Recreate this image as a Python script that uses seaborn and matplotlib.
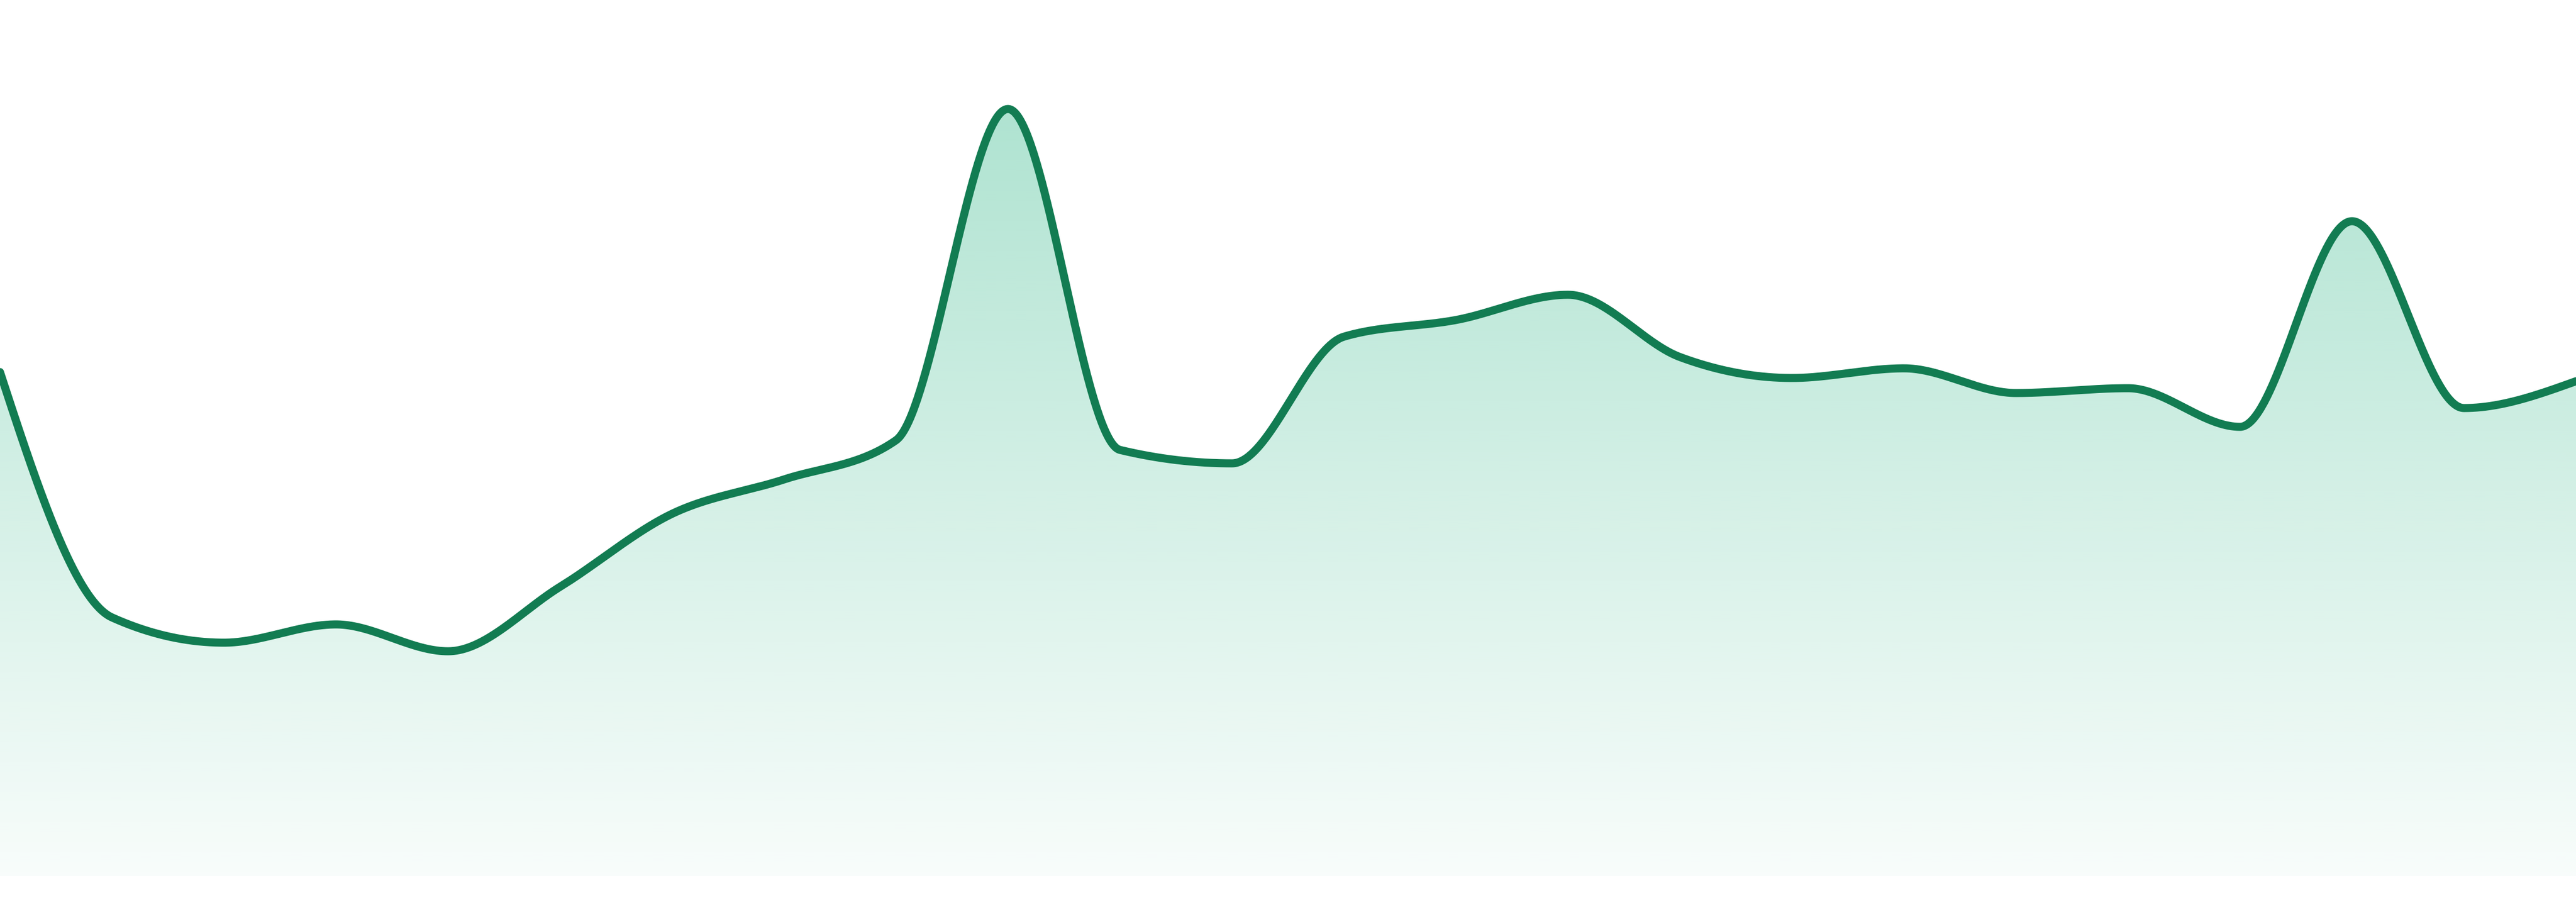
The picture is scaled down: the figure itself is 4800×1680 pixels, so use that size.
import numpy as np
import matplotlib
matplotlib.use("Agg")
import matplotlib.pyplot as plt
import seaborn as sns
from matplotlib.patches import Polygon
from matplotlib.colors import to_rgb

# --- DATA (arbitrary units) ---
values = [93.9, 48.2, 43.5, 46.9, 41.9, 53.9, 67.5, 73.9, 81.2, 142.9, 79.4, 76.9,
          100.5, 103.6, 108.3, 96.7, 92.8, 94.6, 90.0, 90.9, 83.7, 122.0, 87.2, 92.2]

# --- STYLE ---
LINE_COLOR = "#127c52"
FILL_COLOR = "#0caa73"
ALPHA_TOP = 0.33
ALPHA_BOTTOM = 0.03


def monotone_x(x, y, samples=80):
    """Smooth curve through the points, same idea as d3.curveMonotoneX."""
    x = np.asarray(x, float)
    y = np.asarray(y, float)
    n = len(x)
    h = np.diff(x)
    s = np.diff(y) / h
    t = np.zeros(n)
    for i in range(1, n - 1):
        p = (s[i - 1] * h[i] + s[i] * h[i - 1]) / (h[i - 1] + h[i])
        t[i] = (np.sign(s[i - 1]) + np.sign(s[i])) * min(abs(s[i - 1]), abs(s[i]), 0.5 * abs(p))
    t[0] = (3 * s[0] - t[1]) / 2
    t[-1] = (3 * s[-1] - t[-2]) / 2

    u = np.linspace(0, 1, samples)[:-1]
    xs, ys = [], []
    for i in range(n - 1):
        dx = h[i] / 3
        px = [x[i], x[i] + dx, x[i + 1] - dx, x[i + 1]]
        py = [y[i], y[i] + dx * t[i], y[i + 1] - dx * t[i + 1], y[i + 1]]
        b = [(1 - u) ** 3, 3 * (1 - u) ** 2 * u, 3 * (1 - u) * u ** 2, u ** 3]
        xs.append(sum(bk * pk for bk, pk in zip(b, px)))
        ys.append(sum(bk * pk for bk, pk in zip(b, py)))
    xs.append([x[-1]])
    ys.append([y[-1]])
    return np.concatenate(xs), np.concatenate(ys)


def main():
    sns.set_theme(style="white")
    positions = np.arange(len(values))
    cx, cy = monotone_x(positions, values)

    fig = plt.figure(figsize=(48, 16.8), dpi=100)
    fig.patch.set_facecolor("white")
    ax = fig.add_axes([0, 48 / 1680, 1, 1632 / 1680])
    ymax = 163.2
    ax.set_xlim(positions[0], positions[-1])
    ax.set_ylim(0, ymax)
    ax.axis("off")

    # gradient fill under the curve
    top = max(values)
    grad = np.linspace(0, 1, 512)
    rgba = np.zeros((512, 1, 4))
    rgba[:, 0, :3] = to_rgb(FILL_COLOR)
    rgba[:, 0, 3] = ALPHA_BOTTOM + (ALPHA_TOP - ALPHA_BOTTOM) * grad
    img = ax.imshow(rgba, extent=[positions[0], positions[-1], 0, top], origin="lower",
                    aspect="auto", interpolation="bilinear", zorder=1)
    poly_xy = np.column_stack([np.r_[cx, cx[-1], cx[0]], np.r_[cy, 0, 0]])
    clip = Polygon(poly_xy, closed=True, facecolor="none", edgecolor="none")
    ax.add_patch(clip)
    img.set_clip_path(clip)

    # the line
    sns.lineplot(x=cx, y=cy, ax=ax, color=LINE_COLOR, linewidth=10.8,
                 sort=False, estimator=None, zorder=3)
    for line in ax.lines:
        line.set_solid_capstyle("round")
        line.set_solid_joinstyle("round")

    ax.set_xlim(positions[0], positions[-1])
    ax.set_ylim(0, ymax)
    fig.savefig("out.png", dpi=100, facecolor="white")


if __name__ == "__main__":
    main()
